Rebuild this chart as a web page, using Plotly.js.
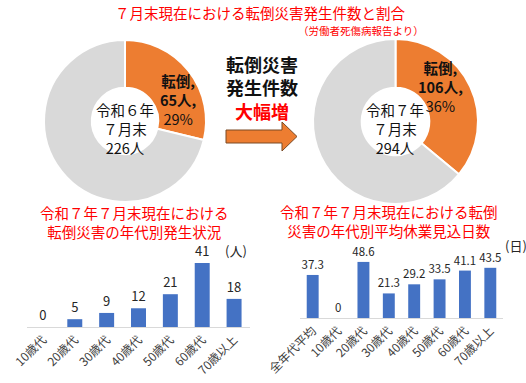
<!DOCTYPE html>
<html><head><meta charset="utf-8">
<script src="https://cdn.plot.ly/plotly-3.0.1.min.js"></script>
<style>html,body{margin:0;padding:0;background:#fff}</style>
</head><body><div id="chart" style="width:526px;height:383px"></div>
<script>
// ---- data ----
const sliceLabels = ['転倒', 'その他'];
const fall2024 = 65, total2024 = 226;
const fall2025 = 106, total2025 = 294;
const ageCats = ['10歳代','20歳代','30歳代','40歳代','50歳代','60歳代','70歳以上'];
const ageCounts = [0, 5, 9, 12, 21, 41, 18];
const dayCats = ['全年代平均','10歳代','20歳代','30歳代','40歳代','50歳代','60歳代','70歳以上'];
const avgDays = [37.3, 0, 48.6, 21.3, 29.2, 33.5, 41.1, 43.5];

// ---- helpers ----
const W = 526, H = 383;
const fx = x => x / W, fy = y => 1 - y / H;
const FONT = '"Noto Sans CJK JP", "Noto Sans", sans-serif';
const ORANGE = '#ED7D31', GREY = '#D9D9D9', BLUE = '#4472C4', RED = '#FF0000';

const traces = [
  {type:'pie', values:[fall2024, total2024 - fall2024], labels:sliceLabels, sort:false,
   direction:'clockwise', rotation:0, hole:0.41, textinfo:'none', hoverinfo:'skip',
   marker:{colors:[ORANGE, GREY], line:{color:'#fff', width:2}},
   domain:{x:[fx(44), fx(206)], y:[fy(202), fy(40)]}, showlegend:false},
  {type:'pie', values:[fall2025, total2025 - fall2025], labels:sliceLabels, sort:false,
   direction:'clockwise', rotation:0, hole:0.41, textinfo:'none', hoverinfo:'skip',
   marker:{colors:[ORANGE, GREY], line:{color:'#fff', width:2}},
   domain:{x:[fx(313), fx(478)], y:[fy(204), fy(39)]}, showlegend:false},
  {type:'bar', x:ageCats, y:ageCounts, xaxis:'x', yaxis:'y', marker:{color:BLUE},
   width:0.47, text:ageCounts.map(String), textposition:'outside', cliponaxis:false, constraintext:'none',
   textfont:{family:FONT, size:13, color:'#262626'}, showlegend:false, hoverinfo:'skip'},
  {type:'bar', x:dayCats, y:avgDays, xaxis:'x2', yaxis:'y2', marker:{color:BLUE},
   width:0.47, text:avgDays.map(v => v === 0 ? '0' : v.toFixed(1)), textposition:'outside', cliponaxis:false,
   constraintext:'none',
   textfont:{family:FONT, size:11.5, color:'#262626'}, showlegend:false, hoverinfo:'skip'}
];

function ann(text, x, y, size, color, extra) {
  return Object.assign({text: text, x: fx(x), y: fy(y), xref:'paper', yref:'paper',
    showarrow:false, xanchor:'center', yanchor:'middle', align:'center',
    font:{family:FONT, size:size, color:color}}, extra || {});
}
const pct24 = Math.round(fall2024 / total2024 * 100);
const pct25 = Math.round(fall2025 / total2025 * 100);

const annotations = [
  ann('７月末現在における転倒災害発生件数と割合', 260, 12, 14.5, RED),
  ann('（労働者死傷病報告より）', 361, 30.5, 10.5, RED),
  // left donut
  ann('令和６年<br>７月末<br>' + total2024 + '人', 125, 128.5, 14.5, '#111'),
  ann('<b>' + sliceLabels[0] + ',</b><br><b>' + fall2024 + '人,</b><br>' + pct24 + '%', 178, 99.5, 14.5, '#111'),
  // right donut
  ann('令和７年<br>７月末<br>' + total2025 + '人', 395, 128.5, 14.5, '#111'),
  ann('<b>' + sliceLabels[0] + ',</b><br><b>' + fall2025 + '人,</b><br>' + pct25 + '%', 440, 86, 14.5, '#111'),
  // middle
  ann('<b>転倒災害</b><br><b>発生件数</b><br><b><span style="color:' + RED + '">大幅増</span></b>', 262, 87.5, 18, '#111'),
  // bottom titles
  ann('令和７年７月末現在における<br>転倒災害の年代別発生状況', 134, 222.5, 14.5, RED),
  ann('令和７年７月末現在における転倒<br>災害の年代別平均休業見込日数', 389, 220.5, 14.5, RED),
  ann('(人)', 236, 250, 13, '#262626'),
  ann('(日)', 516, 245, 13, '#262626')
];

// arrow path (paper coords)
const P = (x, y) => fx(x).toFixed(5) + ',' + fy(y).toFixed(5);
const arrowPath = 'M' + P(226,130) + ' L' + P(282,130) + ' L' + P(282,122) + ' L' + P(297,136.5) +
  ' L' + P(282,151) + ' L' + P(282,143) + ' L' + P(226,143) + ' Z';

const tickFont = {family:FONT, size:12, color:'#404040'};
const layout = {
  width:W, height:H, margin:{l:0, r:0, t:0, b:0}, paper_bgcolor:'#fff', plot_bgcolor:'rgba(0,0,0,0)',
  showlegend:false, bargap:0.53,
  xaxis:{domain:[fx(27), fx(250)], anchor:'y', tickangle:-45, tickfont:tickFont, showline:true,
         linecolor:'#D9D9D9', linewidth:1, ticks:'', showgrid:false, zeroline:false, fixedrange:true},
  yaxis:{domain:[fy(327), fy(245)], anchor:'x', range:[0, 52.5], visible:false, showgrid:false, zeroline:false},
  xaxis2:{domain:[fx(300), fx(503)], anchor:'y2', tickangle:-45, tickfont:tickFont, showline:true,
         linecolor:'#D9D9D9', linewidth:1, ticks:'', showgrid:false, zeroline:false},
  yaxis2:{domain:[fy(318), fy(258)], anchor:'x2', range:[0, 52], visible:false, showgrid:false, zeroline:false},
  annotations:annotations,
  shapes:[{type:'path', xref:'paper', yref:'paper', path:arrowPath,
           fillcolor:ORANGE, line:{color:'#7a4a25', width:1}}]
};
Plotly.newPlot('chart', traces, layout, {staticPlot:true, displayModeBar:false});
</script></body></html>
